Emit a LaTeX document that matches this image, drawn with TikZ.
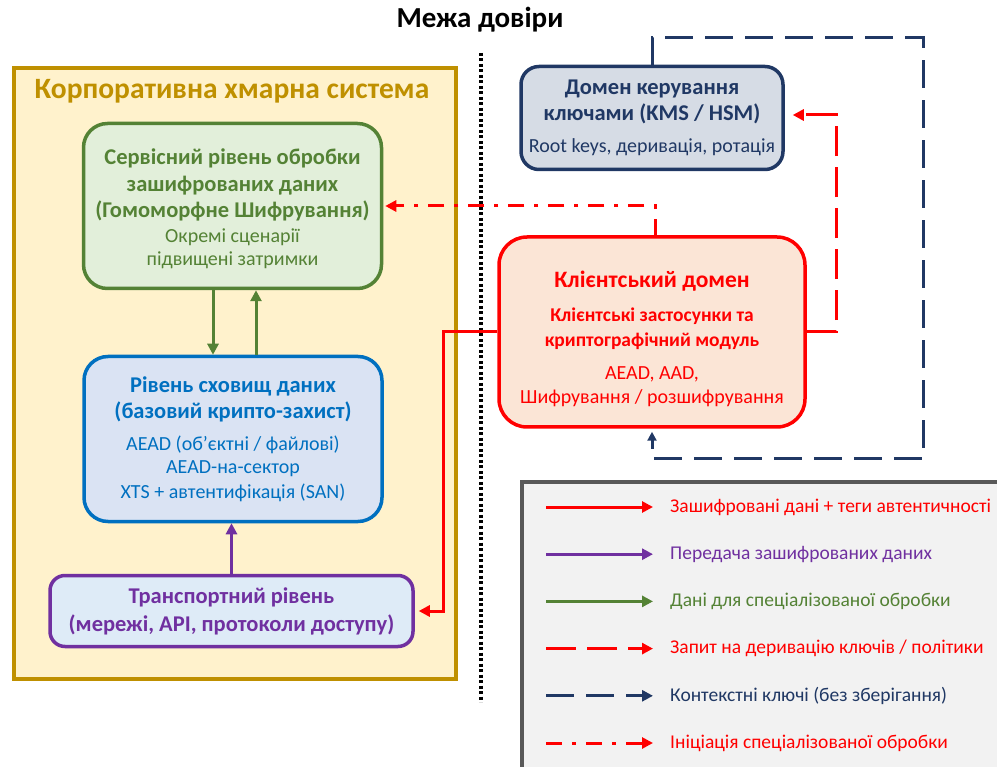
\documentclass[tikz,border=0pt]{standalone}
\usepackage{fontspec}
\setmainfont{Carlito}
\usetikzlibrary{arrows.meta}

\definecolor{corpgold}{HTML}{BF9000}
\definecolor{corpfill}{HTML}{FFF2CC}
\definecolor{srvgreen}{HTML}{548235}
\definecolor{srvfill}{HTML}{E2EFDA}
\definecolor{stblue}{HTML}{0070C0}
\definecolor{stfill}{HTML}{DAE3F3}
\definecolor{trpurple}{HTML}{7030A0}
\definecolor{trfill}{HTML}{DEEBF7}
\definecolor{kmsnavy}{HTML}{203864}
\definecolor{kmsfill}{HTML}{D6DCE5}
\definecolor{clred}{HTML}{FF0000}
\definecolor{clfill}{HTML}{FBE5D6}
\definecolor{leggray}{HTML}{595959}
\definecolor{legfill}{HTML}{F2F2F2}

\newcommand{\bigtxt}{\fontsize{22.5}{26.5}\selectfont\bfseries}
\newcommand{\smalltxt}{\mdseries\fontsize{20}{24}\selectfont}

\begin{document}
\begin{tikzpicture}[x=1pt,y=-1pt,
  box/.style={draw,rounded corners=24pt,line width=3.5pt,align=center,inner sep=0pt,font=\bigtxt},
  flow/.style={line width=3pt,-{Triangle[length=11pt,width=11pt]}},
  dataflow/.style={flow,draw=clred},
  keyreq/.style={flow,draw=clred,dash pattern=on 30pt off 11pt},
  keyctx/.style={flow,draw=kmsnavy,dash pattern=on 28pt off 12pt},
  initflow/.style={flow,draw=clred,dash pattern=on 16pt off 10pt on 4pt off 10pt}]
  \useasboundingbox (0,0) rectangle (997,767);

  % корпоративна система
  \node[draw=corpgold,fill=corpfill,line width=4pt,minimum width=442pt,minimum height=611pt] (corp) at (235,373.5) {};
  \node[text=corpgold,font=\fontsize{29.5}{34}\selectfont\bfseries] (corptitle) at (232,91) {Корпоративна хмарна система};

  % межа довіри
  \node[font=\fontsize{29}{34}\selectfont\bfseries] (trust) at (480,20) {Межа довіри};
  \coordinate (bordtop) at (481,53);
  \coordinate (bordbot) at (481,702);
  \draw[line width=3.5pt,dash pattern=on 3pt off 2.5pt] (bordtop) -- (bordbot);

  \node[box,draw=srvgreen,fill=srvfill,text=srvgreen,minimum width=298pt,minimum height=165pt] (srv) at (232.5,206)
    {\rule{0pt}{22pt}Сервісний рівень обробки\\ зашифрованих даних\\ (Гомоморфне Шифрування)\\[-1.5pt]
     {\smalltxt Окремі сценарії}\\[-3.5pt] {\smalltxt підвищені затримки}};
  \node[box,draw=stblue,fill=stfill,text=stblue,minimum width=298pt,minimum height=165pt] (stor) at (233,439)
    {Рівень сховищ даних\\ (базовий крипто-захист)\\[5.5pt]
     {\smalltxt AEAD (об’єктні / файлові)}\\[-3.5pt] {\smalltxt AEAD-на-сектор}\\[-1.5pt] {\smalltxt XTS + автентифікація (SAN)}};
  \node[box,rounded corners=15pt,draw=trpurple,fill=trfill,text=trpurple,minimum width=363pt,minimum height=71pt] (tr) at (231.5,611)
    {Транспортний рівень\\[1.5pt] (мережі, API, протоколи доступу)};
  \node[box,rounded corners=18pt,draw=kmsnavy,fill=kmsfill,text=kmsnavy,minimum width=262pt,minimum height=103pt] (kms) at (652,118)
    {Домен керування\\ ключами (KMS / HSM)\\[5.5pt] {\smalltxt Root keys, деривація, ротація}};
  \node[box,rounded corners=28pt,draw=clred,fill=clfill,text=clred,minimum width=306pt,minimum height=190pt] (cl) at (652,332)
    {{\fontsize{23.5}{28}\selectfont\rule{0pt}{30pt}Клієнтський домен}\\[7.5pt]
     {\fontsize{19.5}{24}\selectfont Клієнтські застосунки та}\\[-1.5pt] {\fontsize{19.5}{24}\selectfont криптографічний модуль}\\[6.5pt]
     {\smalltxt AEAD, AAD,}\\[-2.5pt] {\smalltxt Шифрування / розшифрування}};

  % зв'язки
  \draw[flow,draw=srvgreen] ([xshift=-19.5pt]srv.south) -- ([xshift=-20pt]stor.north);
  \draw[flow,draw=srvgreen] ([xshift=23pt]stor.north) -- ([xshift=23.5pt]srv.south);
  \draw[flow,draw=trpurple] (tr.north) -- (tr.north |- stor.south);

  \coordinate (redbend) at (443,333);
  \draw[dataflow,shorten >=4pt] (cl.west) -- (cl.west -| redbend) |- (tr.east);
  \draw[initflow,shorten >=2pt] ([xshift=3pt]cl.north) |- (srv.east);
  \coordinate (reqbend) at (836,115);
  \draw[keyreq,shorten >=8pt] (cl.east) -| (reqbend) -- (kms.east |- reqbend);
  \coordinate (keytop) at (923,38);
  \coordinate (keybot) at (923,459);
  \draw[keyctx,-{Triangle[length=9pt,width=9pt]},shorten >=3pt] (kms.north) |- (keytop) -- (keybot) -| (cl.south);

  % легенда
  \draw[draw=leggray,fill=legfill,line width=4pt] (522,482) rectangle (1010,780);
  \foreach \sty/\col/\txt [count=\i] in {dataflow/clred/{Зашифровані дані + теги автентичності},
      flow/trpurple/{Передача зашифрованих даних},
      flow/srvgreen/{Дані для спеціалізованої обробки},
      keyreq/clred/{Запит на деривацію ключів / політики},
      keyctx/kmsnavy/{Контекстні ключі (без зберігання)},
      initflow/clred/{Ініціація спеціалізованої обробки}} {
    \coordinate (ls\i) at (546,{507+(\i-1)*47.2});
    \coordinate (le\i) at (653,{507+(\i-1)*47.2});
    \node[anchor=west,inner sep=0pt,text=\col,font=\fontsize{19.5}{23}\selectfont] (leg\i) at (670,{507+(\i-1)*47.2}) {\txt};
    \draw[\sty,draw=\col] (ls\i) -- (le\i);
  }
\end{tikzpicture}
\end{document}
